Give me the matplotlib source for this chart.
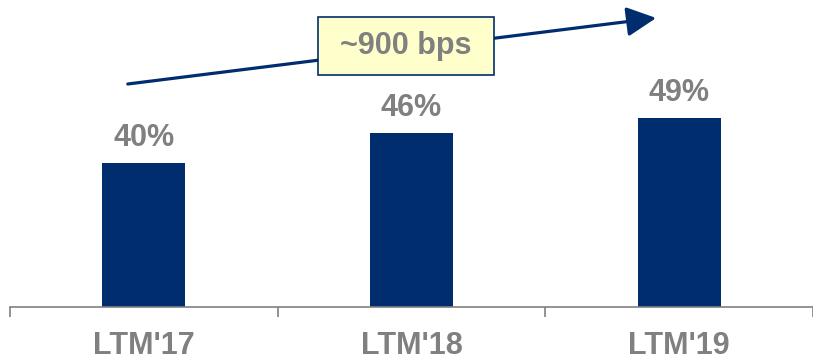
import matplotlib
matplotlib.use("Agg")
import matplotlib.pyplot as plt
import matplotlib.transforms as mtransforms
from matplotlib.patches import Rectangle, FancyArrowPatch

categories = ["LTM'17", "LTM'18", "LTM'19"]
values = [40, 46, 49]
value_labels = ["40%", "46%", "49%"]
callout_text = "~900 bps"

NAVY = "#002D6E"
GRAY = "#808080"
plt.rcParams['font.family'] = ['Liberation Sans', 'DejaVu Sans']

fig = plt.figure(figsize=(8.13, 3.59), dpi=100)
ax = fig.add_axes([10/813, 52/359, 803/813, 307/359])
x = list(range(len(categories)))
ax.bar(x, values, width=0.31, color=NAVY, zorder=2)
ax.set_xlim(-0.5, 2.5)
ax.set_ylim(11.2, 72.6)

off = mtransforms.offset_copy(ax.transData, fig=fig, x=0, y=12, units='points')
for xi, v, lab in zip(x, values, value_labels):
    ax.text(xi, v, lab, transform=off, ha='center', va='baseline',
            fontsize=22, fontweight='bold', color=GRAY)

for s in ['top', 'right', 'left']:
    ax.spines[s].set_visible(False)
ax.spines['bottom'].set_color(GRAY)
ax.spines['bottom'].set_linewidth(1.2)
ax.set_yticks([])
ax.set_xticks(x)
ax.set_xticklabels(categories, fontsize=22, fontweight='bold', color=GRAY)
ax.tick_params(axis='x', which='major', length=0, pad=17)
ax.set_xticks([-0.5, 0.5, 1.5, 2.5], minor=True)
ax.tick_params(axis='x', which='minor', length=7, width=1.2, color=GRAY, direction='out')

# trend arrow
arrow = FancyArrowPatch((-0.06, 55.8), (1.914, 69.0),
                        arrowstyle='-|>,head_length=0.9,head_width=0.45',
                        mutation_scale=20, color=NAVY, lw=2.3, zorder=3,
                        shrinkA=0, shrinkB=0, clip_on=False)
ax.add_patch(arrow)

rect = Rectangle((0.649, 57.6), 0.660, 11.6, facecolor="#FFFFCC", edgecolor=NAVY,
                 lw=1.2, zorder=4, clip_on=False)
ax.add_patch(rect)
ax.text(0.979, 63.4, callout_text, ha='center', va='center', fontsize=22,
        fontweight='bold', color=GRAY, zorder=5)

fig.savefig("out.png", dpi=100)
